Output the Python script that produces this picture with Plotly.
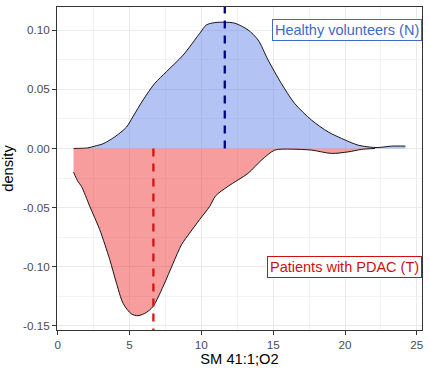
import plotly.graph_objects as go

# Density estimates
x_n = [1.1, 2.09, 2.58, 3.16, 3.97, 4.78, 5.24, 5.94, 6.75, 7.57, 8.73, 9.89, 10.35, 10.93,
       11.63, 12.33, 13.25, 13.95, 14.64, 15.57, 16.5, 17.67, 18.83, 19.76, 20.92, 22.08,
       22.5, 23.24, 24.2]
y_n = [0.0, 0.0005, 0.002, 0.004, 0.0098, 0.018, 0.027, 0.041, 0.055, 0.065, 0.079, 0.0975,
       0.1045, 0.1065, 0.1068, 0.106, 0.1003, 0.0918, 0.075, 0.055, 0.038, 0.024, 0.014,
       0.0085, 0.0028, 0.0008, 0.001, 0.002, 0.002]

x_t = [1.1, 1.41, 1.65, 2.23, 2.92, 3.62, 4.09, 4.55, 5.13, 5.59, 6.18, 6.64, 7.34, 8.04,
       8.62, 9.19, 9.89, 10.58, 11.0, 11.86, 13.25, 14.18, 15.11, 16.27, 17.67, 19.06,
       20.22, 21.15, 22.08]
y_t = [-0.02, -0.028, -0.032, -0.049, -0.0686, -0.094, -0.114, -0.131, -0.140, -0.1415,
       -0.1387, -0.1336, -0.1167, -0.097, -0.0814, -0.0715, -0.060, -0.049, -0.040, -0.032,
       -0.021, -0.0099, -0.0014, -0.0006, -0.0014, -0.0042, -0.0029, -0.0008, 0.0]

mean_n = 11.63
mean_t = 6.66

x_ticks = [0, 5, 10, 15, 20, 25]
y_ticks = [-0.15, -0.10, -0.05, 0.00, 0.05, 0.10]
y_ticktext = ["-0.15", "-0.10", "-0.05", "0.00", "0.05", "0.10"]

x_range = [-0.05, 25.36]
y_range = [-0.1536, 0.1197]

label_n = "Healthy volunteers (N)"
label_t = "Patients with PDAC (T)"

FONT = "Liberation Sans, Arial, sans-serif"

fig = go.Figure()
fig.add_trace(go.Scatter(x=x_n, y=y_n, mode="lines", fill="tozeroy",
                         fillcolor="rgba(65,105,225,0.4)",
                         line=dict(color="black", width=0.9, shape="spline", smoothing=0.8),
                         showlegend=False, hoverinfo="skip"))
fig.add_trace(go.Scatter(x=x_t, y=y_t, mode="lines", fill="tozeroy",
                         fillcolor="rgba(235,10,10,0.4)",
                         line=dict(color="black", width=0.9, shape="spline", smoothing=0.8),
                         showlegend=False, hoverinfo="skip"))
fig.add_trace(go.Scatter(x=[mean_n, mean_n], y=[0, y_range[1]], mode="lines",
                         line=dict(color="#00008B", width=2.3, dash="8px,7px"),
                         showlegend=False, hoverinfo="skip"))
fig.add_trace(go.Scatter(x=[mean_t, mean_t], y=[0, y_range[0]], mode="lines",
                         line=dict(color="#D41414", width=2.3, dash="8px,7px"),
                         showlegend=False, hoverinfo="skip"))

fig.add_annotation(x=1, xref="paper", xanchor="right", y=0.10, yref="y", yanchor="middle",
                   text=label_n, showarrow=False,
                   font=dict(family=FONT, size=14.5, color="#4169C8"),
                   bgcolor="white", bordercolor="#4169C8", borderwidth=1, borderpad=2)
fig.add_annotation(x=1, xref="paper", xanchor="right", y=-0.10, yref="y", yanchor="middle",
                   text=label_t, showarrow=False,
                   font=dict(family=FONT, size=14.5, color="#CC1010"),
                   bgcolor="white", bordercolor="#CC1010", borderwidth=1, borderpad=2)

axis_common = dict(showgrid=True, gridcolor="#EBEBEB", gridwidth=1, zeroline=False,
                   showline=True, mirror=True, linecolor="#333333", linewidth=1,
                   ticks="outside", ticklen=4, tickcolor="#333333", tickwidth=1,
                   tickfont=dict(family=FONT, size=11.7, color="#4D4D4D"))

fig.update_xaxes(range=x_range, tickvals=x_ticks,
                 minor=dict(tickvals=[2.5, 7.5, 12.5, 17.5, 22.5], showgrid=True,
                            gridcolor="#F3F3F3", gridwidth=0.6, ticks=""),
                 title=dict(text="SM 41:1;O2", font=dict(family=FONT, size=14.7, color="black"),
                            standoff=3),
                 **axis_common)
fig.update_yaxes(range=y_range, tickvals=y_ticks, ticktext=y_ticktext,
                 minor=dict(tickvals=[-0.125, -0.075, -0.025, 0.025, 0.075], showgrid=True,
                            gridcolor="#F3F3F3", gridwidth=0.6, ticks=""),
                 title=dict(text="density", font=dict(family=FONT, size=14.7, color="black"),
                            standoff=6),
                 **axis_common)

fig.update_layout(width=430, height=372, margin=dict(l=57, r=8, t=7, b=42),
                  plot_bgcolor="white", paper_bgcolor="white",
                  font=dict(family=FONT))

fig.write_html("out.html", config={"displayModeBar": False},
               post_script="document.body.style.margin='0';")
